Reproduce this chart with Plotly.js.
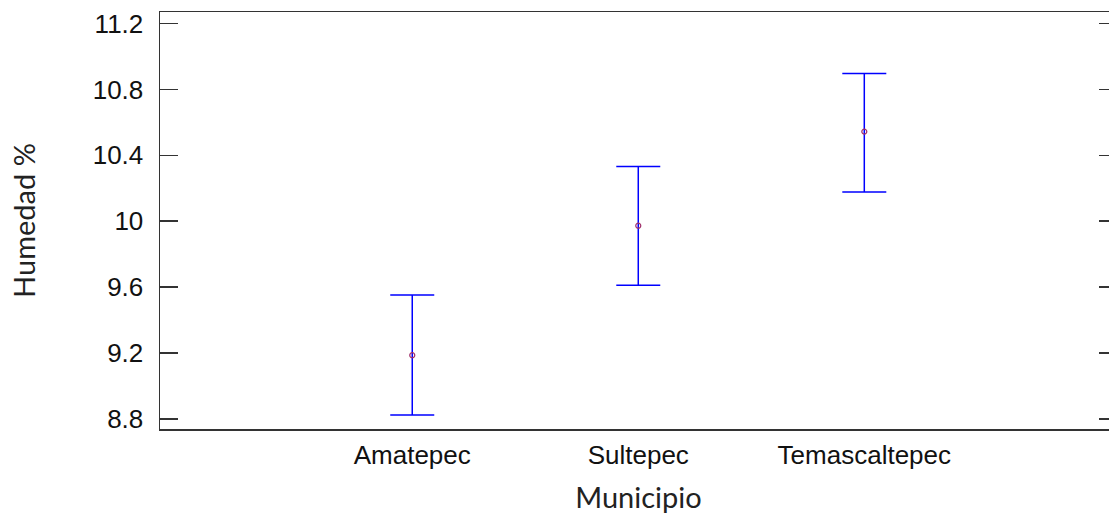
<!DOCTYPE html>
<html>
<head>
<meta charset="utf-8">
<script src="https://cdn.plot.ly/plotly-3.0.1.min.js"></script>
<style>html,body{margin:0;padding:0;overflow:hidden;background:#fff;}#chart{width:1120px;height:514px;}</style>
</head>
<body>
<div id="chart"></div>
<script>
const municipios = ["Amatepec", "Sultepec", "Temascaltepec"];
const means = [9.187, 9.973, 10.544];
const upper = [9.553, 10.333, 10.896];
const lower = [8.824, 9.612, 10.177];
const yTicks = [8.8, 9.2, 9.6, 10, 10.4, 10.8, 11.2];
const yTickText = ["8.8", "9.2", "9.6", "10", "10.4", "10.8", "11.2"];

const plus = means.map((m, i) => upper[i] - m);
const minus = means.map((m, i) => m - lower[i]);

const trace = {
  type: "scatter",
  mode: "markers",
  x: municipios,
  y: means,
  marker: {symbol: "circle-open", size: 5, color: "#a0306a", line: {width: 1.2, color: "#a0306a"}},
  error_y: {type: "data", symmetric: false, array: plus, arrayminus: minus, color: "#0000ff", thickness: 1.5, width: 22},
  hoverinfo: "skip"
};

const layout = {
  width: 1120, height: 514,
  margin: {l: 160, r: 3, t: 12, b: 85},
  paper_bgcolor: "#fff", plot_bgcolor: "#fff",
  showlegend: false,
  font: {family: "Liberation Sans, Arial, sans-serif", color: "#111"},
  xaxis: {
    type: "category",
    range: [-1.116, 3.118],
    showgrid: false, zeroline: false,
    showline: true, mirror: true, linecolor: "#333", linewidth: 1.5,
    ticks: "",
    tickfont: {size: 26, family: "Liberation Sans, Arial, sans-serif", color: "#111"},
    ticklabelstandoff: 2,
    title: {text: "Municipio", font: {size: 29, family: "Lato, Open Sans, sans-serif", color: "#222"}, standoff: 20}
  },
  yaxis: {
    range: [8.739, 11.27],
    tickvals: yTicks, ticktext: yTickText,
    showgrid: false, zeroline: false,
    showline: true, mirror: "ticks", linecolor: "#333", linewidth: 1.5,
    ticks: "inside", ticklen: 18, tickwidth: 1.5, tickcolor: "#333",
    tickfont: {size: 26, family: "Liberation Sans, Arial, sans-serif", color: "#111"},
    ticklabelstandoff: 10,
    title: {text: "Humedad %", font: {size: 29, family: "Lato, Open Sans, sans-serif", color: "#222"}, standoff: 48}
  }
};

Plotly.newPlot("chart", [trace], layout, {displayModeBar: false, staticPlot: true});
</script>
</body>
</html>
